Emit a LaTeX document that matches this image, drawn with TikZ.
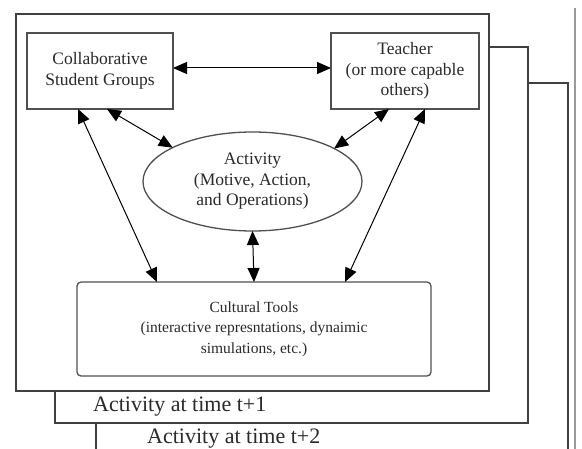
\documentclass[tikz,border=0pt]{standalone}
\usepackage{fontspec}
\setmainfont{Liberation Serif}
\usetikzlibrary{shapes.geometric,arrows.meta,calc}
\definecolor{framec}{HTML}{404040}
\definecolor{boxc}{HTML}{505050}
\definecolor{txt}{HTML}{2a2a2a}
\tikzset{
  frame/.style={draw=framec,line width=1.4pt,fill=white},
  boxnode/.style={draw=boxc,line width=1.3pt,align=center,text=txt,inner sep=0pt,outer sep=0pt,
     font=\fontsize{17.5}{20.5}\selectfont},
  dbl/.style={black,line width=1pt,{Triangle[length=14pt,width=12pt]}-{Triangle[length=14pt,width=12pt]}},
  lbl/.style={anchor=base west,inner sep=0pt,text=txt,font=\fontsize{22}{24}\selectfont}
}
\begin{document}
\begin{tikzpicture}[x=1pt,y=-1pt]
\useasboundingbox (0,0) rectangle (582,449);
\clip (0,0) rectangle (582,449);
\fill[white] (0,0) rectangle (582,449);
% back frames
\draw[draw=gray!80,line width=1.3pt] (575,8) -- (575,460);
\draw[frame] (96,83) rectangle (568,480);
\draw[frame] (55,47) rectangle (528,423);
\draw[frame] (16,14) rectangle (489,391);
\node[lbl] (t1) at (93,412) {Activity at time t+1};
\node[lbl] (t2) at (147,444) {Activity at time t+2};
% nodes
\node[boxnode,minimum width=146pt,minimum height=76pt] (csg) at (100,71)
  {Collaborative\\Student Groups};
\node[boxnode,minimum width=148pt,minimum height=76pt] (teacher) at (405,71)
  {Teacher\\(or more capable\\others)};
\node[boxnode,ellipse,minimum width=219pt,minimum height=99pt] (act) at (252.5,181.5)
  {Activity\\(Motive, Action,\\and Operations)};
\node[boxnode,rounded corners=4pt,minimum width=354pt,minimum height=94pt,
  font=\fontsize{15.5}{20.5}\selectfont] (tools) at (254,329)
  {Cultural Tools\\(interactive represntations, dynaimic\\simulations, etc.)};
% connectors
\draw[dbl] ([yshift=3pt]csg.east) -- ([yshift=3pt]teacher.west);
\draw[dbl] ($(csg.south west)+(51,0)$) -- ($(tools.north west)+(80,0)$);
\draw[dbl] ($(csg.south west)+(80,0)$) -- (act.157);
\draw[dbl] ($(teacher.south west)+(58,0)$) -- (act.22);
\draw[dbl] ($(teacher.south west)+(94,0)$) -- ($(tools.north west)+(268,0)$);
\draw[dbl] (act.south) -- (tools.north);
\end{tikzpicture}
\end{document}
